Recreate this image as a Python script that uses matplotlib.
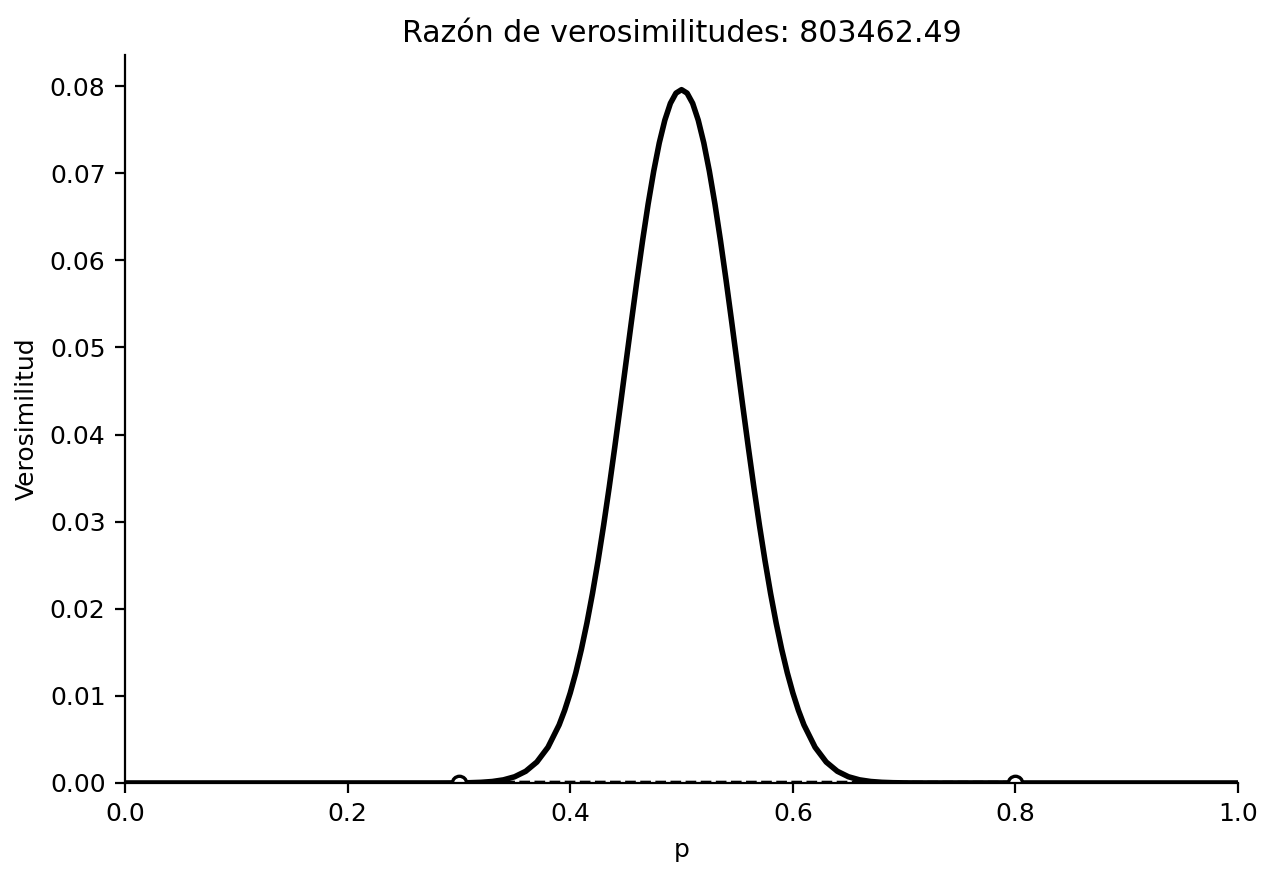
import numpy as np
import matplotlib as mpl
mpl.use('Agg')
import matplotlib.pyplot as plt


# ----------------------------------------------------------------------
# --- likelihood curve (p, L)

p = [0.00, 0.28, 0.29, 0.30, 0.31, 0.32, 0.33, 0.34, 0.35, 0.36, 0.37, 0.38, 0.39,
     0.395, 0.40, 0.405, 0.41, 0.415, 0.42, 0.425, 0.43, 0.435, 0.44, 0.445,
     0.45, 0.455, 0.46, 0.465, 0.47, 0.475, 0.48, 0.485, 0.49, 0.495,
     0.50,
     0.505, 0.51, 0.515, 0.52, 0.525, 0.53, 0.535, 0.54, 0.545, 0.55,
     0.555, 0.56, 0.565, 0.57, 0.575, 0.58, 0.585, 0.59, 0.595, 0.60, 0.605,
     0.61, 0.62, 0.63, 0.64, 0.65, 0.66, 0.67, 0.68, 0.69, 0.70, 0.71, 0.72, 1.00]

likelihood = [0.0, 0.000002, 0.000005, 0.000013, 0.000033, 0.000077, 0.000171, 0.000359,
              0.000713, 0.001343, 0.002405, 0.004100, 0.006663,
              0.008346, 0.01034, 0.01266, 0.01534, 0.01837, 0.02176, 0.02551, 0.02958,
              0.03394, 0.03854, 0.04330,
              0.04816, 0.05300, 0.05774, 0.06226, 0.06647, 0.07023, 0.07348, 0.07609,
              0.07802, 0.07919,
              0.07959,
              0.07919, 0.07802, 0.07609, 0.07348, 0.07023, 0.06647, 0.06226, 0.05774,
              0.05300, 0.04816,
              0.04330, 0.03854, 0.03394, 0.02958, 0.02551, 0.02176, 0.01837, 0.01534,
              0.01266, 0.01034, 0.008346,
              0.006663, 0.004100, 0.002405, 0.001343, 0.000713, 0.000359, 0.000171,
              0.000077, 0.000033, 0.000013, 0.000005, 0.000002, 0.0]

# --- the two hypotheses compared
p_hyp = [0.3, 0.8]
L_hyp = [1.3025e-05, 1.621e-11]
ratio = 803462.49


plt.rcParams['font.size'] = 9

fig = plt.figure(figsize=(6.385, 4.385), dpi=200)
ax = fig.add_axes([0.0979, 0.1072, 0.8716, 0.8301])

ax.plot(p_hyp, L_hyp, color='k', ls=(0, (2.4, 1.0)), lw=1.6)
ax.plot(p, likelihood, color='k', lw=2)
ax.plot(p_hyp, L_hyp, 'o', mfc='white', mec='k', ms=5.2, mew=1.2)

ax.set_xlim(0, 1)
ax.set_ylim(0, max(likelihood) * 1.05)

ax.spines['top'].set_visible(False)
ax.spines['right'].set_visible(False)

ax.set_xlabel('p')
ax.set_ylabel('Verosimilitud')
ax.set_title(f'Razón de verosimilitudes: {ratio:.2f}', fontsize=10.8, pad=4.5)

fig.savefig('out.png', dpi=200)
